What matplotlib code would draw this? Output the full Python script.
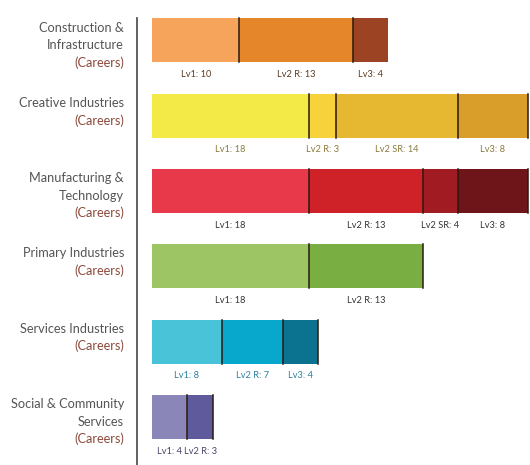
import numpy as np
from matplotlib import pyplot as plt

plt.rcParams['font.family'] = ['Lato', 'DejaVu Sans']

# data
categories = [["Construction &", "Infrastructure"],
              ["Creative Industries"],
              ["Manufacturing &", "Technology"],
              ["Primary Industries"],
              ["Services Industries"],
              ["Social & Community", "Services"]]
seg_names = [["Lv1", "Lv2 R", "Lv3"],
             ["Lv1", "Lv2 R", "Lv2 SR", "Lv3"],
             ["Lv1", "Lv2 R", "Lv2 SR", "Lv3"],
             ["Lv1", "Lv2 R"],
             ["Lv1", "Lv2 R", "Lv3"],
             ["Lv1", "Lv2 R"]]
seg_values = [[10, 13, 4],
              [18, 3, 14, 8],
              [18, 13, 4, 8],
              [18, 13],
              [8, 7, 4],
              [4, 3]]
seg_colors = [["#f6a35c", "#e5862b", "#9c4323"],
              ["#f3e947", "#f8d23b", "#e6b832", "#d99e29"],
              ["#e8394a", "#cf2128", "#a11b22", "#6e151a"],
              ["#9dc563", "#79ae43"],
              ["#49c3d7", "#08a8cc", "#0b7290"],
              ["#8a86b7", "#5f5a9b"]]
label_colors = ["#5a3a22", "#8a7a3c", "#333333", "#333333", "#2a80a0", "#4a4068"]
end_line = [False, True, True, True, True, True]

px_x = 8.74     # pixels per unit
px_y = 75.3     # pixels per category
fig = plt.figure(figsize=(5.3, 4.65), dpi=100)
ax = fig.add_axes([0, 0, 1, 1])
ax.set_xlim(-152 / px_x, (530 - 152) / px_x)
ax.set_ylim((465 - 40.5) / px_y, -40.5 / px_y)
ax.axis('off')

h = 44 / px_y
for i, vals in enumerate(seg_values):
    left = 0
    for j, v in enumerate(vals):
        ax.barh(i, v, left=left, height=h, color=seg_colors[i][j], linewidth=0)
        ax.text(left + v / 2, i + h / 2 + 12 / px_y, f"{seg_names[i][j]}: {v}",
                ha='center', va='center', fontsize=6.7, color=label_colors[i])
        if j > 0:
            ax.plot([left, left], [i - h / 2, i + h / 2], color="#2a1a10", lw=1.1)
        left += v
    if end_line[i]:
        ax.plot([left, left], [i - h / 2, i + h / 2], color="#2a1a10", lw=1.1)

    lines = categories[i] + ["(Careers)"]
    for k, t in enumerate(lines):
        y = i - h / 2 + (9 + 17.5 * k) / px_y
        ax.text(-28 / px_x, y, t, ha='right', va='center', fontsize=9.2,
                color="#8b4a3a" if t == "(Careers)" else "#555555")

ax.plot([-15 / px_x, -15 / px_x], [-22.5 / px_y, (465 - 40.5) / px_y],
        color="#555555", lw=1.3)

fig.savefig("out.png", dpi=100)
